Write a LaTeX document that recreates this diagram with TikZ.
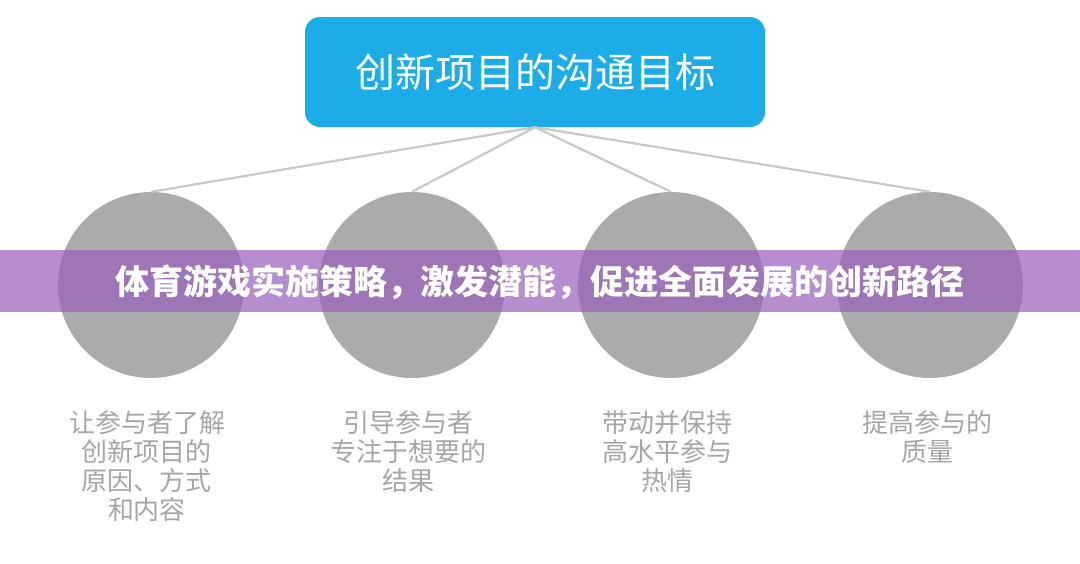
\documentclass[tikz,border=0pt]{standalone}
\usepackage{fontspec}
\newfontfamily\cjk{Noto Sans CJK SC}
\definecolor{boxblue}{HTML}{1CACE8}
\definecolor{circgray}{HTML}{ABABAB}
\definecolor{linegray}{HTML}{C8C8C8}
\definecolor{txtgray}{HTML}{A6A6A6}
\definecolor{bannerpurple}{HTML}{9961BD}
\tikzset{
  goalbox/.style={fill=boxblue, rounded corners=15pt, minimum width=460pt, minimum height=110pt, inner sep=0pt, text=white, font=\cjk\fontsize{40}{44}\selectfont},
  bubble/.style={circle, fill=circgray, minimum size=186pt, inner sep=0pt},
  link/.style={draw=linegray, line width=2.2pt},
  desc/.style={text=txtgray, align=center, anchor=north, inner sep=0pt, font=\cjk\fontsize{26}{29}\selectfont},
  bannerbar/.style={fill=bannerpurple, fill opacity=0.71, minimum width=1080pt, minimum height=62pt, inner sep=0pt},
  bannertext/.style={text=white, font=\cjk\bfseries\fontsize{34}{38}\selectfont}
}
\begin{document}
\begin{tikzpicture}[x=1pt,y=-1pt]
\useasboundingbox (0,0) rectangle (1080,563);
\fill[white] (0,0) rectangle (1080,563);
\node[goalbox] (goal) at (535,72) {创新项目的沟通目标};
\node[bubble] (c1) at (151,285) {};
\node[bubble] (c2) at (412,285) {};
\node[bubble] (c3) at (671,285) {};
\node[bubble] (c4) at (930,285) {};
\foreach \i in {1,...,4} \draw[link] (goal.south) -- (c\i.north);
\node[bannerbar] (banner) at (540,281) {};
\node[bannertext] (title) at (540,282) {体育游戏实施策略，激发潜能，促进全面发展的创新路径};
\node[desc] (d1) at (147,410) {让参与者了解\\创新项目的\\原因、方式\\和内容};
\node[desc] (d2) at (408,410) {引导参与者\\专注于想要的\\结果};
\node[desc] (d3) at (667,410) {带动并保持\\高水平参与\\热情};
\node[desc] (d4) at (927,410) {提高参与的\\质量};
\end{tikzpicture}
\end{document}
